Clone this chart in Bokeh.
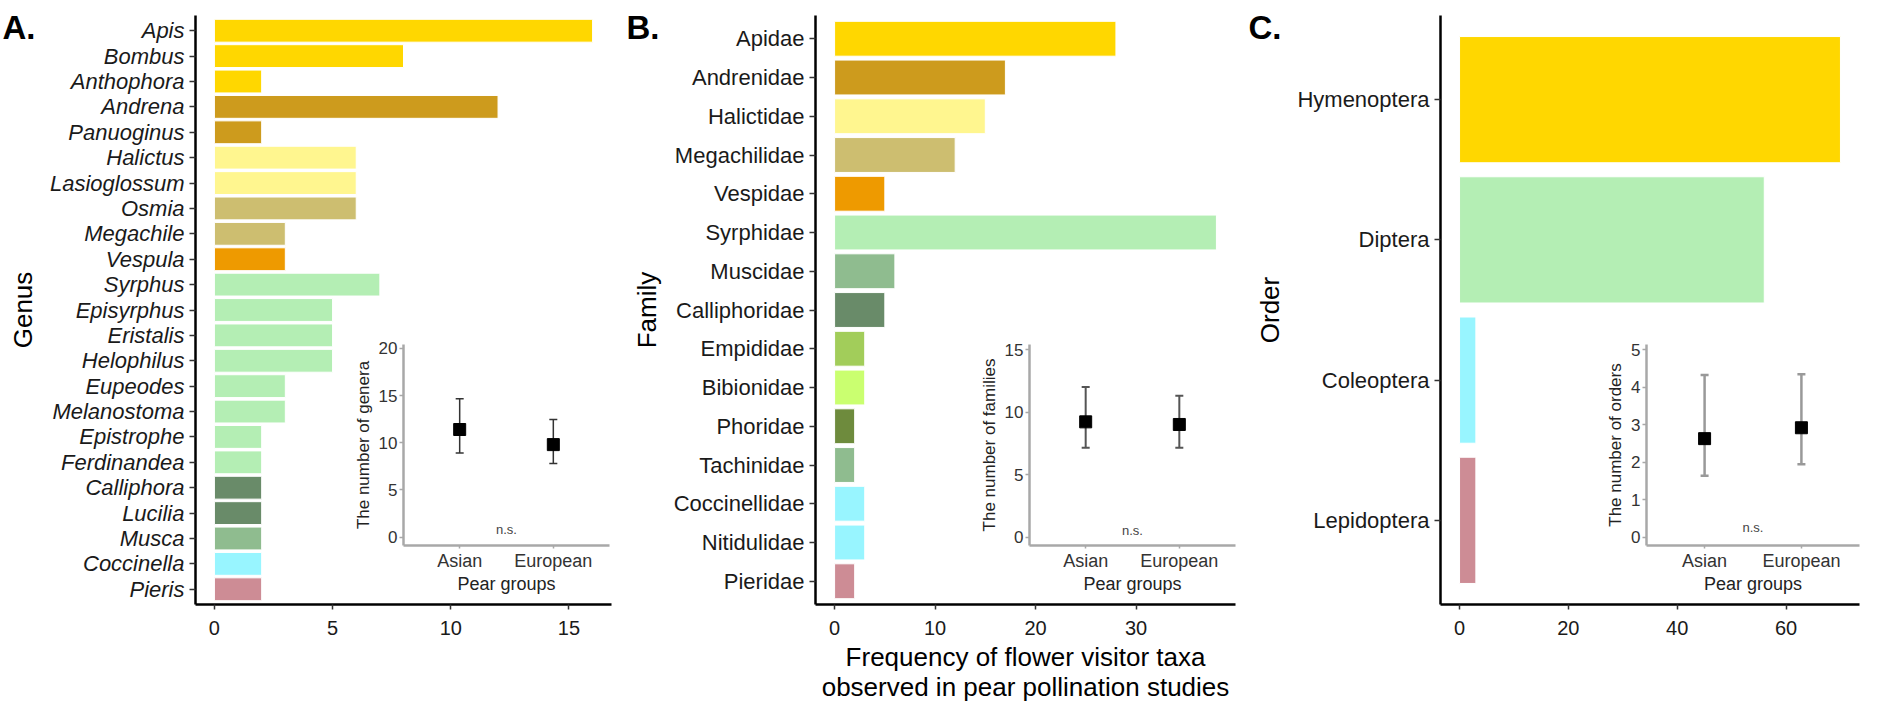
from bokeh.plotting import figure
from bokeh.models import (FactorRange, Range1d, FixedTicker, Label, Whisker,
                          TeeHead, ColumnDataSource, GridBox)
from bokeh.core.properties import value
from bokeh.embed import file_html
from bokeh.resources import INLINE

FONT = "Liberation Sans"

# ---------------- colours ----------------
GOLD = "#FFD700"
GOLDENROD = "#CD9B1D"
KHAKI = "#FFF68F"
LGOLD = "#CDBE70"
ORANGE = "#EE9A00"
SEA2 = "#B4EEB4"
SEA4 = "#698B69"
SEA = "#8FBC8F"
OLIVE3 = "#A2CD5A"
OLIVE1 = "#CAFF70"
OLIVE4 = "#6E8B3D"
CADET = "#98F5FF"
PINK = "#CD8C95"

# ---------------- data ----------------
genus = ["Apis", "Bombus", "Anthophora", "Andrena", "Panuoginus", "Halictus",
         "Lasioglossum", "Osmia", "Megachile", "Vespula", "Syrphus", "Episyrphus",
         "Eristalis", "Helophilus", "Eupeodes", "Melanostoma", "Epistrophe",
         "Ferdinandea", "Calliphora", "Lucilia", "Musca", "Coccinella", "Pieris"]
genus_freq = [16, 8, 2, 12, 2, 6, 6, 6, 3, 3, 7, 5, 5, 5, 3, 3, 2, 2, 2, 2, 2, 2, 2]
genus_colors = [GOLD, GOLD, GOLD, GOLDENROD, GOLDENROD, KHAKI, KHAKI, LGOLD, LGOLD,
                ORANGE, SEA2, SEA2, SEA2, SEA2, SEA2, SEA2, SEA2, SEA2, SEA4, SEA4,
                SEA, CADET, PINK]

family = ["Apidae", "Andrenidae", "Halictidae", "Megachilidae", "Vespidae",
          "Syrphidae", "Muscidae", "Calliphoridae", "Empididae", "Bibionidae",
          "Phoridae", "Tachinidae", "Coccinellidae", "Nitidulidae", "Pieridae"]
family_freq = [28, 17, 15, 12, 5, 38, 6, 5, 3, 3, 2, 2, 3, 3, 2]
family_colors = [GOLD, GOLDENROD, KHAKI, LGOLD, ORANGE, SEA2, SEA, SEA4, OLIVE3,
                 OLIVE1, OLIVE4, SEA, CADET, CADET, PINK]

order = ["Hymenoptera", "Diptera", "Coleoptera", "Lepidoptera"]
order_freq = [70, 56, 3, 3]
order_colors = [GOLD, SEA2, CADET, PINK]

groups = ["Asian", "European"]
genera_mean = [11.4, 9.8]
genera_upper = [14.65, 12.45]
genera_lower = [8.9, 7.8]
families_mean = [9.22, 9.01]
families_upper = [12.0, 11.3]
families_lower = [7.15, 7.15]
orders_mean = [2.63, 2.92]
orders_upper = [4.33, 4.35]
orders_lower = [1.64, 1.95]

genus_ticks = [0, 5, 10, 15]
family_ticks = [0, 10, 20, 30]
order_ticks = [0, 20, 40, 60]

panel_letters = ["A.", "B.", "C."]
letter_x = [2, 626, 1248]
letter_y = [27, 27, 27]

MAIN_H = 712
PAGE_W, PAGE_H = 1878, 716


def main_panel(cats, vals, cols, xticks, ylabel, italic, width, left, right,
               xlabel=None):
    pad = max(vals) * 0.05
    yr = FactorRange(factors=list(reversed(cats)), range_padding=0.1,
                     range_padding_units="absolute")
    p = figure(width=width, height=MAIN_H, y_range=yr,
               x_range=Range1d(-pad, max(vals) + pad),
               output_backend="svg", toolbar_location=None,
               min_border_left=left, min_border_right=right,
               min_border_top=15, min_border_bottom=108,
               background_fill_color=None, border_fill_color=None)
    src = ColumnDataSource(dict(cat=cats, val=vals, color=cols))
    p.hbar(y="cat", left=0, right="val", height=0.9, fill_color="color",
           line_color="white", line_width=1, source=src)
    p.xgrid.visible = False
    p.ygrid.visible = False
    p.outline_line_color = None
    for ax in p.axis:
        ax.axis_line_color = "black"
        ax.axis_line_width = 2.5
        ax.major_tick_line_color = "#333333"
        ax.major_tick_line_width = 1.5
        ax.minor_tick_line_color = None
        ax.major_tick_in = 0
        ax.major_label_text_font = FONT
        ax.major_label_text_color = "#1a1a1a"
        ax.axis_label_text_font = FONT
        ax.axis_label_text_font_style = "normal"
        ax.axis_label_text_color = "black"
        ax.axis_label_text_font_size = "26px"
    p.yaxis.major_tick_out = 6
    p.yaxis.major_label_standoff = 5
    p.yaxis.major_label_text_font_size = "22px"
    if italic:
        p.yaxis.major_label_text_font_style = "italic"
    p.yaxis.axis_label = ylabel
    p.yaxis.axis_label_standoff = 9
    p.xaxis.ticker = FixedTicker(ticks=xticks)
    p.xaxis.major_tick_out = 5
    p.xaxis.major_label_standoff = 11
    p.xaxis.major_label_text_font_size = "20px"
    if xlabel:
        p.xaxis.axis_label = xlabel
        p.xaxis.axis_label_standoff = 4
        p.xaxis.axis_label_text_line_height = 1.0
    return p


def inset_panel(ylabel, means, uppers, lowers, yrange, yticks, ns_y, frame_w,
                wcolor, wwidth):
    xr = FactorRange(factors=groups, range_padding=0.1, range_padding_units="absolute")
    p = figure(width=60 + frame_w + 4, height=270, x_range=xr,
               y_range=Range1d(*yrange), output_backend="svg",
               toolbar_location=None, min_border_left=60, min_border_right=4,
               min_border_top=10, min_border_bottom=59,
               background_fill_color=None, border_fill_color=None)
    p.outline_line_color = None
    p.xgrid.visible = False
    p.ygrid.visible = False
    src = ColumnDataSource(dict(g=groups, m=means, up=uppers, lo=lowers))
    w = Whisker(base="g", upper="up", lower="lo", source=src,
                line_color=wcolor, line_width=wwidth, level="underlay",
                upper_head=TeeHead(size=8, line_color=wcolor, line_width=wwidth),
                lower_head=TeeHead(size=8, line_color=wcolor, line_width=wwidth))
    p.add_layout(w)
    p.scatter(x="g", y="m", source=src, marker="square", size=12,
              fill_color="black", line_color="black")
    p.add_layout(Label(x=1.0, y=ns_y, text="n.s.", text_font=FONT,
                       text_font_size="13px", text_color="#444444",
                       text_align="center", text_baseline="middle"))
    for ax in p.axis:
        ax.axis_line_color = "#a8a8a8"
        ax.axis_line_width = 2.5
        ax.major_tick_line_color = "#a8a8a8"
        ax.major_tick_line_width = 1.5
        ax.minor_tick_line_color = None
        ax.major_tick_in = 0
        ax.major_label_text_font = FONT
        ax.major_label_text_color = "#333333"
        ax.axis_label_text_font = FONT
        ax.axis_label_text_font_style = "normal"
        ax.axis_label_text_color = "#222222"
    p.yaxis.ticker = FixedTicker(ticks=yticks)
    p.yaxis.major_tick_out = 4
    p.yaxis.major_label_standoff = 2
    p.yaxis.major_label_text_font_size = "17px"
    p.yaxis.axis_label = ylabel
    p.yaxis.axis_label_text_font_size = "17px"
    p.yaxis.axis_label_standoff = 3
    p.xaxis.major_tick_out = 3
    p.xaxis.major_label_standoff = 2
    p.xaxis.major_label_text_font_size = "18px"
    p.xaxis.axis_label = "Pear groups"
    p.xaxis.axis_label_text_font_size = "18px"
    p.xaxis.axis_label_standoff = 0
    return p


# background page carrying the panel letters
bg = figure(width=PAGE_W, height=PAGE_H, x_range=Range1d(0, PAGE_W - 5),
            y_range=Range1d(PAGE_H - 3, 15), output_backend="svg",
            toolbar_location=None, x_axis_location=None, y_axis_location=None,
            min_border_left=0, min_border_top=15, min_border_right=5,
            min_border_bottom=3, background_fill_color="white",
            border_fill_color="white")
bg.title.visible = False
bg.outline_line_color = None
bg.xgrid.visible = False
bg.ygrid.visible = False
bg.text(x=letter_x, y=letter_y, text=panel_letters, text_font=value(FONT),
        text_font_size="33px", text_font_style="bold", text_color="black",
        text_align="left", text_baseline="middle")

pA = main_panel(genus, genus_freq, genus_colors, genus_ticks, "Genus", True,
                620, 195, 9)
pB = main_panel(family, family_freq, family_colors, family_ticks, "Family", False,
                624, 195, 9,
                xlabel="Frequency of flower visitor taxa\nobserved in pear pollination studies")
pC = main_panel(order, order_freq, order_colors, order_ticks, "Order", False,
                624, 196, 9)

iA = inset_panel("The number of genera", genera_mean, genera_upper, genera_lower,
                 (-0.88, 20.4), [0, 5, 10, 15, 20], 0.78, 206, "#333333", 1.5)
iB = inset_panel("The number of families", families_mean, families_upper,
                 families_lower, (-0.66, 15.4), [0, 5, 10, 15], 0.5, 206,
                 "#555555", 2)
iC = inset_panel("The number of orders", orders_mean, orders_upper, orders_lower,
                 (-0.22, 5.14), [0, 1, 2, 3, 4, 5], 0.25, 213, "#999999", 2.5)

grid = GridBox(
    children=[(bg, 0, 0, 5, 11),
              (pA, 1, 1, 3, 3), (pB, 1, 4, 3, 3), (pC, 1, 7, 3, 3),
              (iA, 2, 2, 1, 1), (iB, 2, 5, 1, 1), (iC, 2, 8, 1, 1)],
    rows=["0px", "334px", "270px", "108px", "4px"],
    cols=["0px", "343px", "270px", "7px", "349px", "270px", "5px", "342px", "277px",
          "5px", "10px"],
    spacing=0,
)

open("out.html", "w").write(file_html(grid, INLINE))
